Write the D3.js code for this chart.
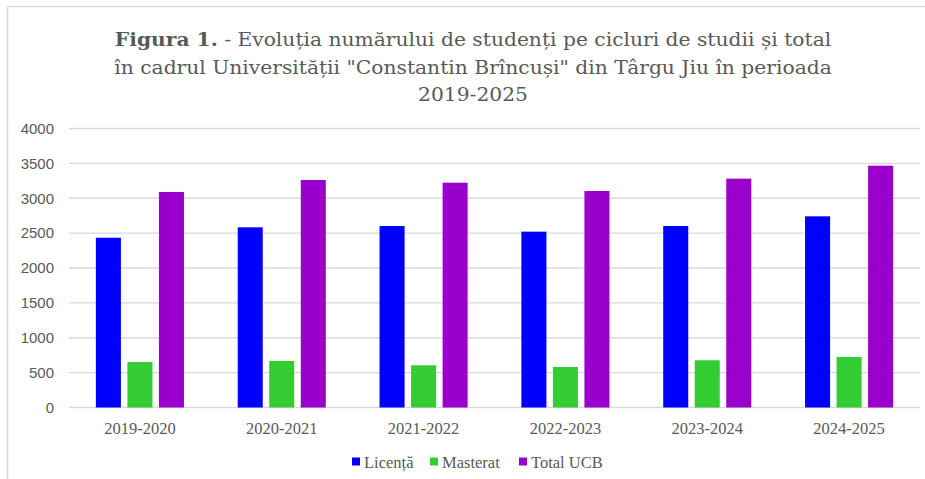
<!DOCTYPE html>
<html><head><meta charset="utf-8">
<script src="https://cdn.jsdelivr.net/npm/d3@7"></script>
<style>body{margin:0;background:#fff}svg{display:block}</style>
</head><body>
<svg id="c" width="925" height="479"></svg>
<script>
const categories = ["2019-2020","2020-2021","2021-2022","2022-2023","2023-2024","2024-2025"];
const seriesNames = ["Licență","Masterat","Total UCB"];
const licenta  = [2434, 2583, 2602, 2521, 2602, 2741];
const masterat = [652, 667, 605, 581, 677, 724];
const totalUCB = [3090, 3262, 3223, 3104, 3281, 3467];
const yTicks = [0,500,1000,1500,2000,2500,3000,3500,4000];
const colors = ["#0000FF","#33CC33","#9900CC"];
const titleLines = [
  ["Figura 1.", " - Evoluția numărului de studenți pe cicluri de studii și total"],
  ["", "în cadrul Universității \"Constantin Brîncuși\" din Târgu Jiu în perioada"],
  ["", "2019-2025"]
];

const series = [licenta, masterat, totalUCB];
const svg = d3.select("#c");
const grey = "#595959";

// outer frame
svg.append("rect").attr("x",7.5).attr("y",6.5).attr("width",940).attr("height",500)
  .attr("fill","none").attr("stroke","#d9d9d9").attr("stroke-width",1.5);

const L = 69, R = 920, T = 128.5, B = 407.5;
const x0 = d3.scaleBand().domain(categories).range([L,R]).paddingInner(0.379).paddingOuter(0.1895);
const x1 = d3.scaleBand().domain(seriesNames).range([0, x0.bandwidth()]).paddingInner(0.206).paddingOuter(0);
const y = d3.scaleLinear().domain([0,4000]).range([B,T]);

// gridlines
svg.append("g").selectAll("line").data(yTicks).join("line")
  .attr("x1",L).attr("x2",R).attr("y1",d=>y(d)).attr("y2",d=>y(d))
  .attr("stroke","#d9d9d9").attr("stroke-width",1.3);

// y labels
const yAxis = d3.axisLeft(y).tickValues(yTicks).tickFormat(d3.format("d")).tickSize(0).tickPadding(0);
const gy = svg.append("g").attr("transform","translate(54,0)").call(yAxis);
gy.select(".domain").remove();
gy.selectAll("text").attr("fill",grey).style("font-family","Liberation Sans, Arial, sans-serif").style("font-size","15px");

// bars
const groups = svg.append("g").selectAll("g").data(categories).join("g")
  .attr("transform",d=>`translate(${x0(d)},0)`);
groups.selectAll("rect").data((d,i)=>seriesNames.map((s,j)=>({s, v:series[j][i], j})))
  .join("rect")
  .attr("x",d=>x1(d.s)).attr("width",x1.bandwidth())
  .attr("y",d=>y(d.v)).attr("height",d=>B-y(d.v))
  .attr("fill",d=>colors[d.j]);

// x labels
const xAxis = d3.axisBottom(x0).tickSize(0).tickPadding(0);
const gx = svg.append("g").attr("transform",`translate(0,${B})`).call(xAxis);
gx.select(".domain").remove();
gx.selectAll("text").attr("dy",null).attr("y",26).attr("fill",grey)
  .style("font-family","Liberation Serif, Times New Roman, serif").style("font-size","16.5px");

// title
const cx = 473;
const tg = svg.append("g");
const titleY = [46, 74, 101];
const tnodes = [];
titleLines.forEach((ln,i)=>{
  const t = tg.append("text").attr("x",0).attr("y",titleY[i]).attr("text-anchor","middle")
    .attr("fill",grey).style("font-family","DejaVu Serif, serif").style("font-size","19px");
  if (ln[0]) t.append("tspan").attr("font-weight","bold").text(ln[0]);
  t.append("tspan").text(ln[1]);
  tnodes.push(t.node());
});
const w1 = tnodes[0].getComputedTextLength();
const sx = 717 / w1;
tg.attr("transform",`translate(${cx},0) scale(${sx},1)`);

// legend
const legX = [352, 430, 519];
const lg = svg.append("g").selectAll("g").data(seriesNames).join("g")
  .attr("transform",(d,i)=>`translate(${legX[i]},462)`);
lg.append("rect").attr("x",0).attr("y",-4.5).attr("width",8).attr("height",8).attr("fill",(d,i)=>colors[i]);
lg.append("text").attr("x",12).attr("y",5.5).text(d=>d).attr("fill",grey)
  .style("font-family","Liberation Serif, Times New Roman, serif").style("font-size","16.5px");
</script>
</body></html>
